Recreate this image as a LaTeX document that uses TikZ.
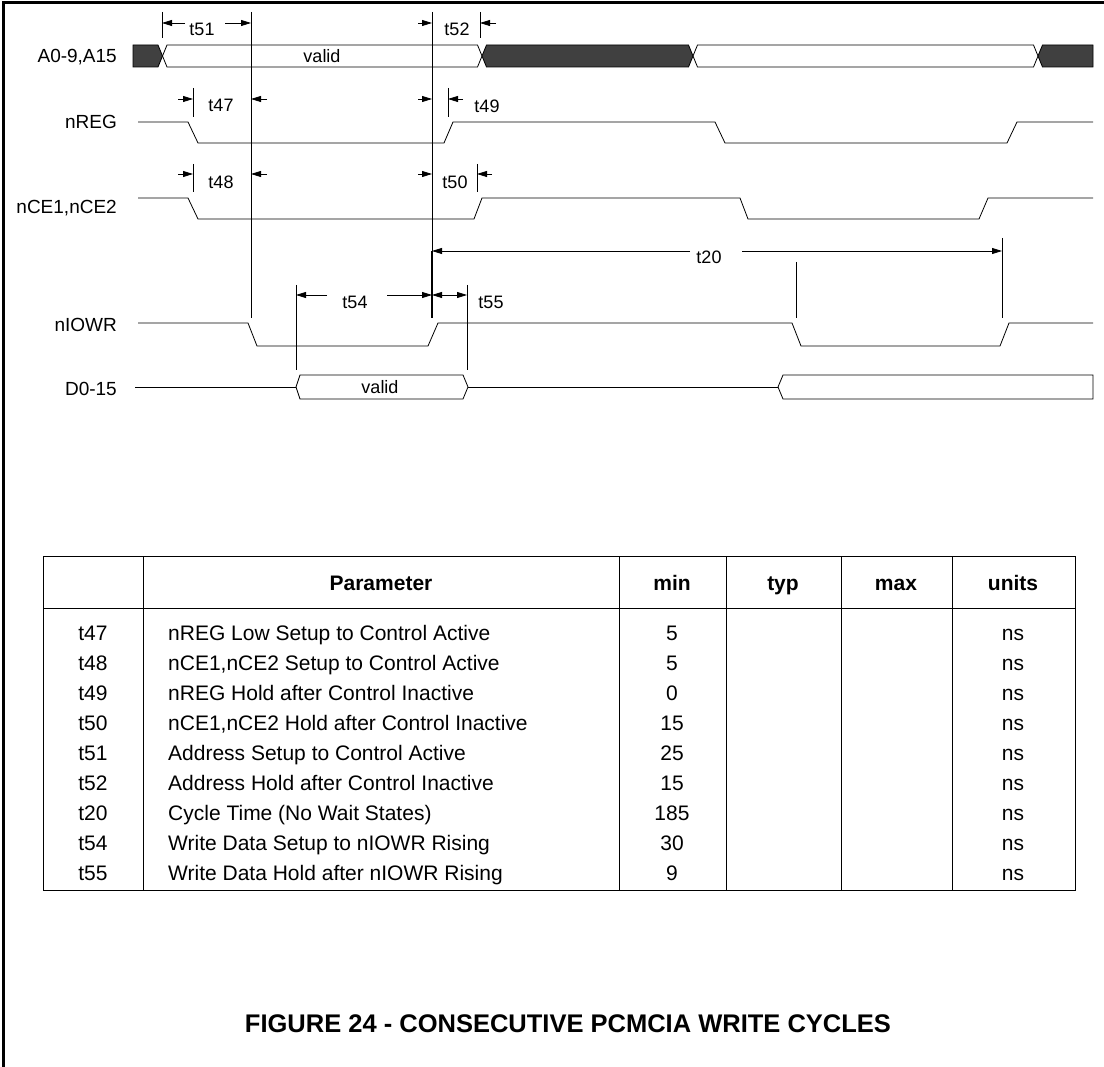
\documentclass[tikz,border=0pt]{standalone}
\usepackage{fontspec}
\setmainfont{Liberation Sans}
\usetikzlibrary{arrows.meta}
\definecolor{busdark}{RGB}{64,64,64}
\def\paramrows{{t47/nREG Low Setup to Control Active/5},%
  {t48/nCE1,nCE2 Setup to Control Active/5},%
  {t49/nREG Hold after Control Inactive/0},%
  {t50/nCE1,nCE2 Hold after Control Inactive/15},%
  {t51/Address Setup to Control Active/25},%
  {t52/Address Hold after Control Inactive/15},%
  {t20/Cycle Time (No Wait States)/185},%
  {t54/Write Data Setup to nIOWR Rising/30},%
  {t55/Write Data Hold after nIOWR Rising/9}%
}
\begin{document}
\begin{tikzpicture}[x=1pt,y=-1pt,
    signal/.style={line width=0.8pt},
    guide/.style={line width=1pt},
    tickline/.style={line width=0.8pt},
    dim/.style={line width=0.8pt,-{Triangle[length=10pt,width=6pt]}},
    dimboth/.style={line width=0.8pt,{Triangle[length=10pt,width=6pt]}-{Triangle[length=10pt,width=6pt]}},
    lbl/.style={font=\fontsize{18}{20}\selectfont,inner sep=0pt,text height=13pt,text depth=0pt},
    signame/.style={font=\fontsize{19}{22}\selectfont,inner sep=0pt,text height=13.6pt,text depth=0pt,anchor=east},
    cell/.style={font=\fontsize{21}{24}\selectfont,inner sep=0pt,text height=15pt,text depth=0pt},
    head/.style={cell,font=\bfseries\fontsize{21}{24}\selectfont}]

  \useasboundingbox (0,0) rectangle (1104,1067);
  % frame
  \draw[line width=3pt] (3,1067) -- (3,3) -- (1104,3);

  % signal names
  \node[signame] (nA)   at (117,56)  {A0-9,A15};
  \node[signame] (nREG) at (117,122) {nREG};
  \node[signame] (nCE)  at (117,207) {nCE1,nCE2};
  \node[signame] (nIOW) at (117,325) {nIOWR};
  \node[signame] (nD)   at (117,389) {D0-15};

  % address bus
  \draw[signal,fill=busdark] (133,45) -- (158,45) -- (162.5,56) -- (158,67) -- (133,67) -- cycle;
  \draw[signal] (162.5,56) -- (167,45) -- (477.5,45) -- (482,56) -- (477.5,67) -- (167,67) -- cycle;
  \draw[signal,fill=busdark] (482,56) -- (486.5,45) -- (688.5,45) -- (693,56) -- (688.5,67) -- (486.5,67) -- cycle;
  \draw[signal] (693,56) -- (697.5,45) -- (1033.5,45) -- (1038,56) -- (1033.5,67) -- (697.5,67) -- cycle;
  \draw[signal,fill=busdark] (1038,56) -- (1042.5,45) -- (1093,45) -- (1093,67) -- (1042.5,67) -- cycle;
  \node[lbl] (vA) at (322,56) {valid};

  % control lines
  \draw[signal] (138,122) -- (188,122) -- (198,143) -- (444,143) -- (453,122)
    -- (715,122) -- (725,143) -- (1007,143) -- (1017,122) -- (1093,122);
  \draw[signal] (138,198) -- (188,198) -- (198,219) -- (474,219) -- (482,198)
    -- (740,198) -- (748,219) -- (979,219) -- (988,198) -- (1093,198);
  \draw[signal] (138,323) -- (248,323) -- (257,346) -- (428,346) -- (438,323)
    -- (792,323) -- (801,346) -- (1000,346) -- (1009,323) -- (1093,323);

  % data bus
  \draw[signal] (135,387) -- (296,387);
  \draw[signal] (296,387) -- (300,375) -- (463,375) -- (468,387) -- (463,399) -- (300,399) -- cycle;
  \draw[signal] (468,387) -- (778,387);
  \draw[signal] (778,387) -- (783,375) -- (1093,375) -- (1093,399) -- (783,399) -- cycle;
  \node[lbl] (vD) at (380,387) {valid};

  % reference lines
  \draw[guide] (251,12) -- (251,318);
  \draw[guide] (432,12) -- (432,318);
  \draw[line width=2pt] (432,251) -- (432,318);
  \draw[guide] (796,262) -- (796,318);
  \draw[guide] (1002,238) -- (1002,318);
  \foreach \xx/\ya/\yb in {162/12/38, 480/12/38, 193/88/117, 448/88/117,
      193/164/192, 477/164/192, 296/285/370, 467/285/370} {%
    \draw[tickline] (\xx,\ya) -- (\xx,\yb);
  }

  % timing arrows
  \foreach \xa/\xb/\yy in {185/162/23, 225/251/23, 418/432/23, 496/480/23,
      178/193/99, 267/251/99, 418/432/99, 463/448/99,
      178/193/174, 267/251/174, 418/432/174, 492/477/174,
      690/432/251, 742/1002/251,
      327/296/295, 387/432/295} {%
    \draw[dim] (\xa,\yy) -- (\xb,\yy);
  }
  \draw[dimboth] (432,295) -- (467,295);

  \foreach \nm/\xx/\yy in {t51/202/29.5, t52/457/29.5, t47/221/105, t49/487/106,
      t48/221/182, t50/455/182, t20/709/257, t54/355/302, t55/491/302} {%
    \node[lbl] (l\nm) at (\xx,\yy) {\nm};
  }

  % parameter table
  \draw[line width=0.8pt] (43,556) rectangle (1075,890);
  \draw[line width=0.8pt] (43,608) -- (1075,608);
  \foreach \xx in {143,619,726,841,952} {%
    \draw[line width=0.8pt] (\xx,556) -- (\xx,890);
  }
  \foreach \hd/\xx in {Parameter/381, min/672, typ/783, max/896, units/1013} {%
    \node[head] (h\hd) at (\xx,583) {\hd};
  }
  \foreach \sym/\desc/\minv [count=\i from 0] in \paramrows {%
    \node[cell] (s\sym) at (93,{633+30*\i}) {\sym};
    \node[cell,anchor=west] (d\sym) at (168,{633+30*\i}) {\desc};
    \node[cell] (m\sym) at (672,{633+30*\i}) {\minv};
    \node[cell] (u\sym) at (1013,{633+30*\i}) {ns};
  }

  \node[font=\bfseries\fontsize{25.5}{30}\selectfont,inner sep=0pt,text height=18.3pt,text depth=0pt]
    (title) at (568,1023) {FIGURE 24 - CONSECUTIVE PCMCIA WRITE CYCLES};
\end{tikzpicture}
\end{document}
